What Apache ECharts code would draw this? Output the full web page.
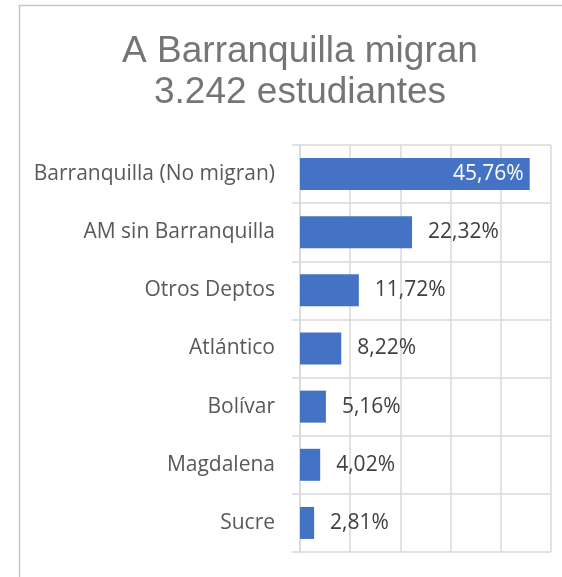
<!DOCTYPE html>
<html>
<head>
<meta charset="utf-8">
<script src="https://cdn.jsdelivr.net/npm/echarts@6/dist/echarts.min.js"></script>
<style>
  html, body { margin: 0; padding: 0; background: #ffffff; }
  #chart { width: 562px; height: 577px; }
</style>
</head>
<body>
<div id="chart"></div>
<script>
// Destination shares of students leaving Barranquilla (percent)
const categories = [
  'Barranquilla (No migran)',
  'AM sin Barranquilla',
  'Otros Deptos',
  'Atlántico',
  'Bolívar',
  'Magdalena',
  'Sucre'
];
const shares = [45.76, 22.32, 11.72, 8.22, 5.16, 4.02, 2.81];
const titleLines = ['A Barranquilla migran', '3.242 estudiantes'];

const gridColor = '#d9d9d9';
const fmt = v => v.toFixed(2).replace('.', ',') + '%';

const chart = echarts.init(document.getElementById('chart'), null, { renderer: 'canvas' });

chart.setOption({
  animation: false,
  backgroundColor: '#ffffff',
  title: {
    text: titleLines.join('\n'),
    left: 295,
    top: 26,
    textAlign: 'center',
    textStyle: {
      fontFamily: '"Liberation Sans", Arial, sans-serif',
      fontSize: 37,
      fontWeight: 'normal',
      color: '#757575',
      lineHeight: 41
    }
  },
  graphic: [{
    type: 'rect',
    shape: { x: 19.5, y: 5.5, width: 700, height: 700 },
    style: { fill: 'none', stroke: '#c6c6c6', lineWidth: 1.5 },
    silent: true,
    z: -1
  }],
  grid: {
    left: 300,
    right: 11,
    top: 145,
    bottom: 25,
    containLabel: false
  },
  xAxis: {
    type: 'value',
    min: 0,
    max: 50,
    interval: 10,
    axisLabel: { show: false },
    axisLine: { show: false },
    axisTick: { show: false },
    splitLine: { show: true, lineStyle: { color: gridColor, width: 1.5 } }
  },
  yAxis: {
    type: 'category',
    data: categories,
    inverse: true,
    axisLine: { show: true, lineStyle: { color: gridColor, width: 1.5 } },
    axisTick: { show: true, length: 8, lineStyle: { color: gridColor, width: 1.5 } },
    splitLine: { show: true, lineStyle: { color: gridColor, width: 1.5 } },
    axisLabel: {
      margin: 25,
      fontFamily: '"Open Sans", "Noto Sans", sans-serif',
      fontSize: 21,
      color: '#595959'
    }
  },
  series: [{
    type: 'bar',
    data: shares.map((v, i) => ({
      value: v,
      label: i === 0
        ? { position: 'insideRight', distance: 6, color: '#ffffff' }
        : { position: 'right', distance: 16, color: '#404040' }
    })),
    barWidth: 32,
    itemStyle: { color: '#4472c4' },
    label: {
      show: true,
      fontFamily: '"Open Sans", "Noto Sans", sans-serif',
      fontSize: 21,
      formatter: p => fmt(p.value)
    }
  }]
});
</script>
</body>
</html>
